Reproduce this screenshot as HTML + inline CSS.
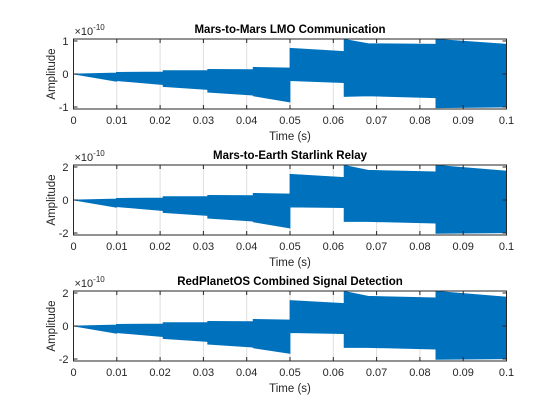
<!DOCTYPE html>
<html><head><meta charset="utf-8"><style>
html,body{margin:0;padding:0;background:#fff;}
svg{display:block;font-family:"Liberation Sans",Arial,sans-serif;}
</style></head><body>
<svg id="fig" width="560" height="420" viewBox="0 0 560 420"></svg>
<script>
const titles = ["Mars-to-Mars LMO Communication","Mars-to-Earth Starlink Relay","RedPlanetOS Combined Signal Detection"];
const xTicks = [0,0.01,0.02,0.03,0.04,0.05,0.06,0.07,0.08,0.09,0.1];
const xTickLabels = ["0","0.01","0.02","0.03","0.04","0.05","0.06","0.07","0.08","0.09","0.1"];
const times = [0,0.0099,0.0099,0.0207,0.0207,0.031,0.031,0.0415,0.0415,0.05,0.05,0.0625,0.0625,0.068,0.0837,0.0837,0.1];
const upper1 = [0,0.03,0.05,0.06,0.1,0.1,0.14,0.13,0.2,0.18,0.78,0.68,1.05,0.92,0.9,1.05,0.9];
const lower1 = [0,-0.22,-0.2,-0.32,-0.38,-0.47,-0.55,-0.64,-0.66,-0.85,-0.2,-0.26,-0.68,-0.66,-0.72,-1.02,-1.0];
const upper2 = [0,0.06,0.1,0.12,0.2,0.2,0.28,0.26,0.4,0.36,1.56,1.36,2.1,1.8,1.7,2.1,1.75];
const lower2 = [0,-0.44,-0.4,-0.64,-0.76,-0.94,-1.1,-1.28,-1.32,-1.7,-0.42,-0.46,-1.3,-1.3,-1.4,-2.02,-1.98];
const upper3 = [0,0.06,0.1,0.12,0.2,0.2,0.28,0.26,0.4,0.36,1.54,1.36,2.1,1.8,1.7,2.1,1.75];
const lower3 = [0,-0.44,-0.4,-0.64,-0.76,-0.94,-1.1,-1.28,-1.32,-1.66,-0.4,-0.46,-1.3,-1.3,-1.4,-2.02,-1.98];
const yLims = [1.06,2.12,2.12];
const yTicks = [[-1,0,1],[-2,0,2],[-2,0,2]];
const yTickLabels = [["-1","0","1"],["-2","0","2"],["-2","0","2"]];
const uppers=[upper1,upper2,upper3], lowers=[lower1,lower2,lower3];

const NS="http://www.w3.org/2000/svg";
const svg=document.getElementById('fig');
function mk(tag,attrs,parent){const e=document.createElementNS(NS,tag);for(const k in attrs)e.setAttribute(k,attrs[k]);(parent||svg).appendChild(e);return e;}
const L=73.5,R=506.5,tops=[39,165,291],H=70;
for(let p=0;p<3;p++){
  const T=tops[p],B=T+H,lim=yLims[p];
  const g=mk('g',{});
  
  
  const xs=t=>L+(t-0)/(0.1)*(R-L);
  const ys=v=>T+H/2-v/lim*(H/2);
  const bg=mk('rect',{x:L,y:T,width:R-L,height:H,fill:'#fff'},g);
  
  
  xTicks.forEach((t,i)=>{
    if(i>0&&i<xTicks.length-1){const gl=mk('line',{x1:xs(t),x2:xs(t),y1:T,y2:B,stroke:'#dfdfdf','stroke-width':1},g);
    
    }
  });
  let d='M'+times.map((t,i)=>xs(t).toFixed(2)+','+ys(uppers[p][i]).toFixed(2)).join('L');
  for(let i=times.length-1;i>=0;i--) d+='L'+xs(times[i]).toFixed(2)+','+ys(lowers[p][i]).toFixed(2);
  const sig=mk('path',{d:d+'Z',fill:'#0072BD',stroke:'#0072BD','stroke-width':0.8},g);
  
  
  const box=mk('rect',{x:L,y:T,width:R-L,height:H,fill:'none',stroke:'#262626','stroke-width':1},g);
  
  
  xTicks.forEach((t,i)=>{
    const x=xs(t);
    mk('line',{x1:x,x2:x,y1:B,y2:B-4,stroke:'#262626'},g);
    mk('line',{x1:x,x2:x,y1:T,y2:T+4,stroke:'#262626'},g);
    const tl=mk('text',{x:x,y:B+15,'font-size':11,'text-anchor':'middle',fill:'#262626'},g);
    tl.textContent=xTickLabels[i];
    
    
  });
  yTicks[p].forEach((v,i)=>{
    const y=ys(v);
    mk('line',{x1:L,x2:L+4,y1:y,y2:y,stroke:'#262626'},g);
    mk('line',{x1:R,x2:R-4,y1:y,y2:y,stroke:'#262626'},g);
    const tl=mk('text',{x:L-5,y:y+4,'font-size':11,'text-anchor':'end',fill:'#262626'},g);
    tl.textContent=yTickLabels[p][i];
    
    
  });
  const ti=mk('text',{x:(L+R)/2,y:T-6,'font-size':11.5,'font-weight':'bold','text-anchor':'middle',fill:'#000'},g);
  ti.textContent=titles[p];
  
  
  const ex=mk('text',{x:L+1,y:T-4,'font-size':11,fill:'#262626'},g);
  ex.innerHTML='×10<tspan dy="-5" font-size="8">-10</tspan>';
  
  
  const xl=mk('text',{x:(L+R)/2,y:B+31,'font-size':11.5,'text-anchor':'middle',fill:'#262626'},g);
  xl.textContent='Time (s)';
  
  
  const yl=mk('text',{x:0,y:0,'font-size':11.5,'text-anchor':'middle',fill:'#262626',transform:`translate(55,${T+H/2}) rotate(-90)`},g);
  yl.textContent='Amplitude';
  
  
}
</script>
</body></html>
